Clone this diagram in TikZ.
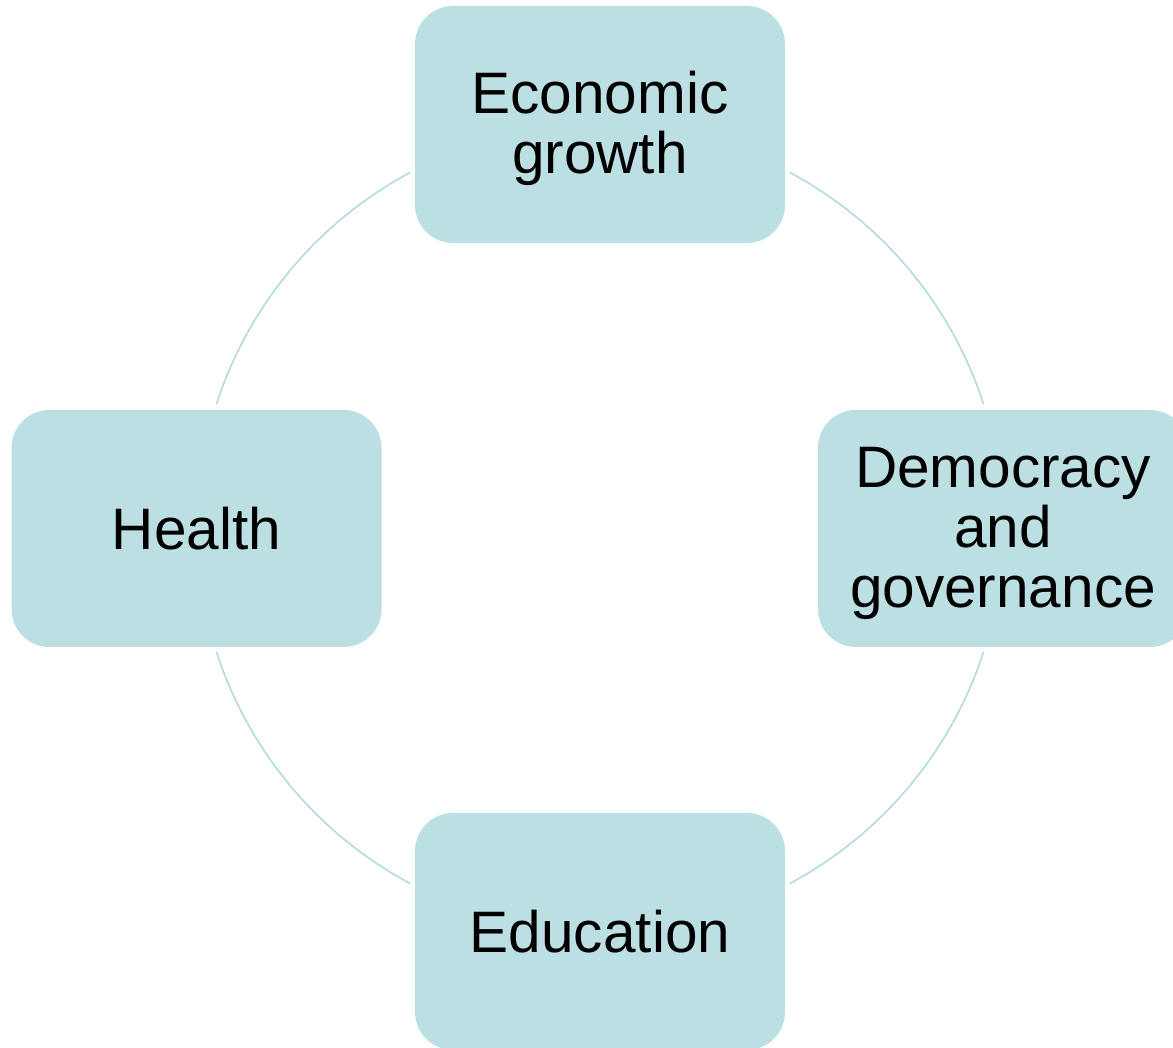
\documentclass[tikz,border=0pt]{standalone}
\usepackage{fontspec}
\setmainfont{Liberation Sans}
\definecolor{boxfill}{HTML}{BBDFE3}
\definecolor{arcline}{HTML}{B2DADF}
\newcommand{\topstrut}{\rule{0pt}{50pt}}
\begin{document}
\begin{tikzpicture}[x=1pt,y=1pt,
  topic/.style={rectangle, rounded corners=38pt, fill=boxfill, draw=none,
    minimum width=370pt, minimum height=237pt, inner sep=0pt, align=center,
    font=\fontsize{58.5}{60}\selectfont},
  ring/.style={draw=arcline, line width=1.6pt}]
\useasboundingbox (0,0) rectangle (1173,1048);
\clip (0,0) rectangle (1173,1048);
\coordinate (c) at (600,520);
\node[topic] (econ) at (600,923.5) {\topstrut Economic\\growth};
\node[topic] (demo) at (1003,519.5) {\topstrut Democracy\\and\\governance};
\node[topic] (health) at (196.5,519.5) {Health};
\node[topic] (edu) at (600,116.5) {Education};
\draw[ring] (c) ++(61.9:403) arc[start angle=61.9, end angle=17.9, radius=403];
\draw[ring] (c) ++(-17.9:403) arc[start angle=-17.9, end angle=-61.9, radius=403];
\draw[ring] (c) ++(-118.1:403) arc[start angle=-118.1, end angle=-162.1, radius=403];
\draw[ring] (c) ++(162.1:403) arc[start angle=162.1, end angle=118.1, radius=403];
\end{tikzpicture}
\end{document}
